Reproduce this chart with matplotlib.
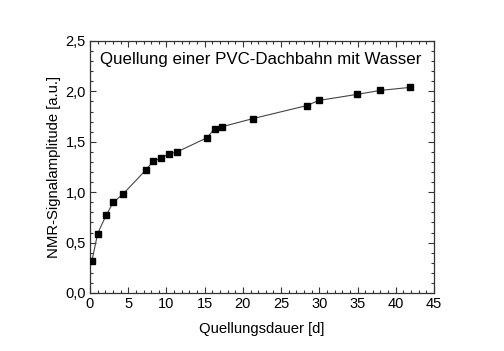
import matplotlib
matplotlib.use("Agg")
import matplotlib.pyplot as plt
from matplotlib.ticker import MultipleLocator, FuncFormatter

plt.rcParams['font.family'] = ['Liberation Sans', 'DejaVu Sans']

days = [0.26, 1.0, 2.1, 3.05, 4.3, 7.3, 8.3, 9.3, 10.3, 11.4,
        15.3, 16.3, 17.3, 21.3, 28.4, 29.9, 34.9, 38.0, 41.9]
amplitude = [0.32, 0.59, 0.77, 0.90, 0.98, 1.22, 1.31, 1.34, 1.38, 1.40,
             1.54, 1.63, 1.65, 1.73, 1.86, 1.91, 1.97, 2.01, 2.04]

title = "Quellung einer PVC-Dachbahn mit Wasser"
xlabel = "Quellungsdauer [d]"
ylabel = "NMR-Signalamplitude [a.u.]"

fig = plt.figure(figsize=(5.04, 3.51), dpi=100)
ax = fig.add_axes([90/504, 58/351, 344/504, 252/351])

ax.plot(days, amplitude, color='#444444', lw=0.8, zorder=2)
ax.plot(days, amplitude, ls='none', marker='s', ms=5, color='black', zorder=3)

ax.set_xlim(0, 45)
ax.set_ylim(0, 2.5)
ax.xaxis.set_major_locator(MultipleLocator(5))
ax.xaxis.set_minor_locator(MultipleLocator(1))
ax.yaxis.set_major_locator(MultipleLocator(0.5))
ax.yaxis.set_minor_locator(MultipleLocator(0.1))
ax.xaxis.set_major_formatter(FuncFormatter(lambda v, p: f"{v:.0f}"))
ax.yaxis.set_major_formatter(FuncFormatter(lambda v, p: f"{v:.1f}".replace('.', ',')))

ax.tick_params(which='both', direction='in', top=True, right=True,
               labeltop=False, labelright=False, color='#333333')
ax.tick_params(which='major', length=4.5, width=0.8, labelsize=10.5, pad=3)
ax.tick_params(which='minor', length=2.5, width=0.8)
for s in ax.spines.values():
    s.set_color('#333333')
    s.set_linewidth(0.9)

ax.text(0.03, 0.925, title, transform=ax.transAxes, fontsize=12.2,
        ha='left', va='center')
ax.set_xlabel(xlabel, fontsize=10.7, labelpad=8)
ax.set_ylabel(ylabel, fontsize=10.7, labelpad=3)

fig.savefig("out.png", dpi=100)
